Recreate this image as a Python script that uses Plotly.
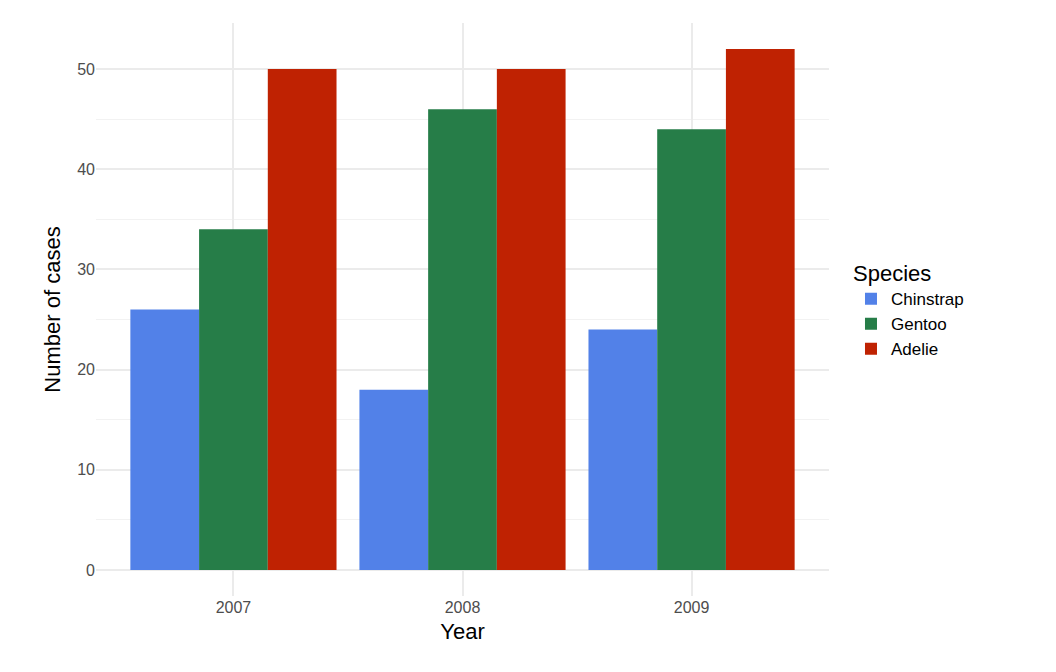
import plotly.graph_objects as go

years = ["2007", "2008", "2009"]
species = ["Chinstrap", "Gentoo", "Adelie"]
counts = {
    "Chinstrap": [26, 18, 24],
    "Gentoo": [34, 46, 44],
    "Adelie": [50, 50, 52],
}
colors = {"Chinstrap": "#5281E8", "Gentoo": "#267D48", "Adelie": "#BF2202"}

fig = go.Figure()
for s in species:
    fig.add_trace(go.Bar(x=years, y=counts[s], name=s, marker_color=colors[s],
                         marker_line_width=0))

fig.update_layout(
    barmode="group", bargap=0.1, bargroupgap=0,
    width=1056, height=672,
    margin=dict(l=88, r=235, t=15, b=84),
    plot_bgcolor="white", paper_bgcolor="white",
    font=dict(family="Liberation Sans, Arial", color="black"),
    legend=dict(title=dict(text="Species", font=dict(size=22)),
                font=dict(size=17), x=1.03, y=0.5, yanchor="middle",
                itemsizing="constant"),
    xaxis=dict(title=dict(text="Year", font=dict(size=22), standoff=8),
               range=[-0.6, 2.6], showgrid=True, gridcolor="#EBEBEB", gridwidth=2,
               tickfont=dict(size=16, color="#4D4D4D"), ticks="", zeroline=False),
    yaxis=dict(title=dict(text="Number of cases", font=dict(size=22), standoff=10),
               range=[-2.6, 54.6], dtick=10, showgrid=True, gridcolor="#EBEBEB",
               gridwidth=2, zeroline=False,
               minor=dict(dtick=5, showgrid=True, gridcolor="#F2F2F2", gridwidth=1),
               tickfont=dict(size=16, color="#4D4D4D"), ticks=""),
)

fig.write_html("out.html")
